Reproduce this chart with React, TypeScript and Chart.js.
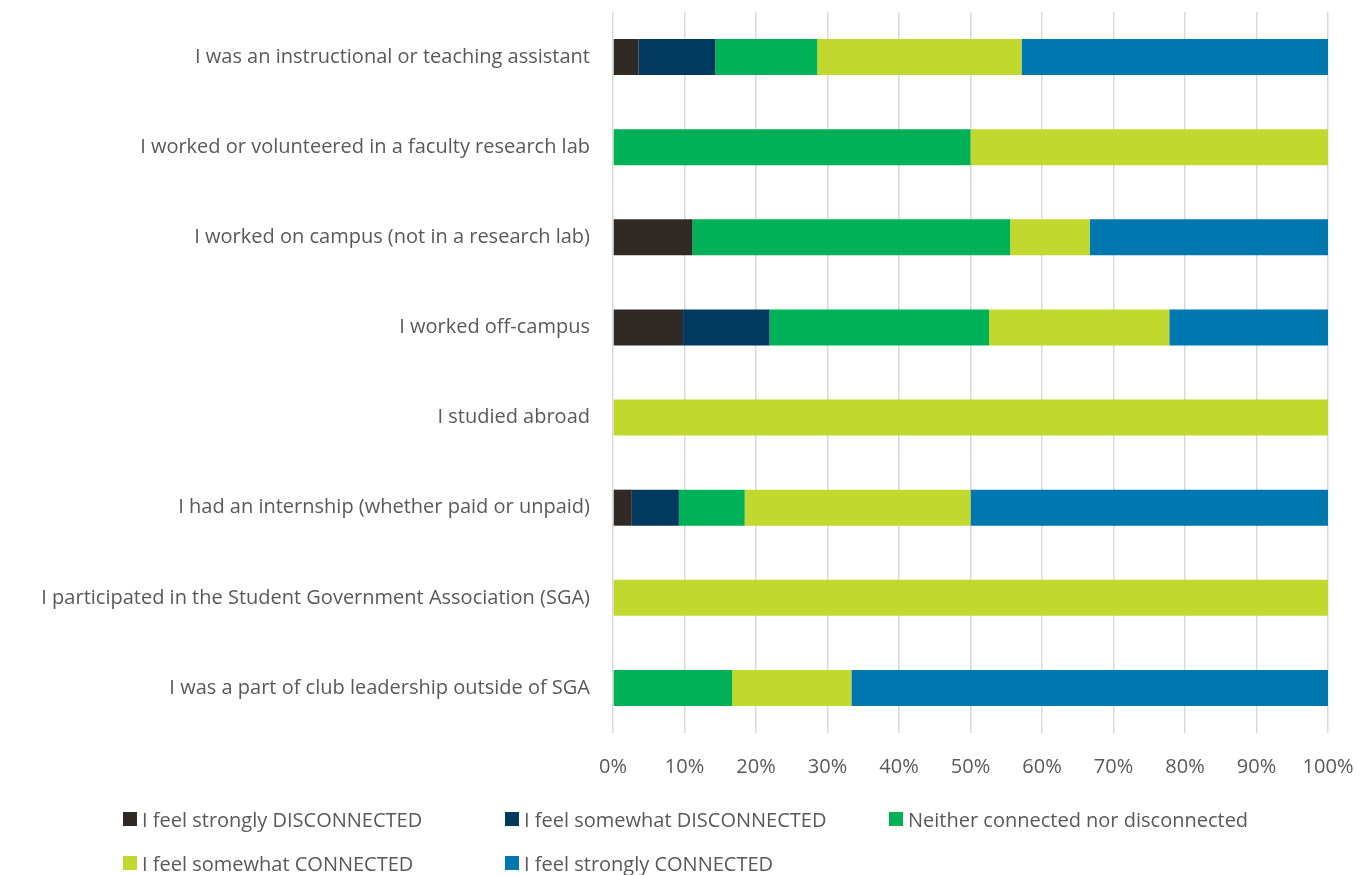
import { useEffect, useRef } from "react";
import { Chart, registerables } from "chart.js";

Chart.register(...registerables);

const categories = [
  "I was an instructional or teaching assistant",
  "I worked or volunteered in a faculty research lab",
  "I worked on campus (not in a research lab)",
  "I worked off-campus",
  "I studied abroad",
  "I had an internship (whether paid or unpaid)",
  "I participated in the Student Government Association (SGA)",
  "I was a part of club leadership outside of SGA",
];

const seriesNames = [
  "I feel strongly DISCONNECTED",
  "I feel somewhat DISCONNECTED",
  "Neither connected nor disconnected",
  "I feel somewhat CONNECTED",
  "I feel strongly CONNECTED",
];

const seriesColors = ["#2f2a26", "#02395e", "#00b157", "#c1d82f", "#0077ae"];

const stronglyDisconnected = [3.57, 0, 11.11, 9.8, 0, 2.63, 0, 0];
const somewhatDisconnected = [10.71, 0, 0, 12.1, 0, 6.58, 0, 0];
const neitherConnected = [14.29, 50, 44.44, 30.7, 0, 9.21, 0, 16.67];
const somewhatConnected = [28.57, 50, 11.11, 25.2, 100, 31.58, 100, 16.67];
const stronglyConnected = [42.86, 0, 33.34, 22.2, 0, 50, 0, 66.66];

const xTickValues = [0, 10, 20, 30, 40, 50, 60, 70, 80, 90, 100];
const xTickLabels = xTickValues.map((v) => v + "%");

const FONT = "Open Sans";
const FONT_SIZE = 20;
const TEXT_COLOR = "#595959";

export default function App() {
  const canvasRef = useRef<HTMLCanvasElement | null>(null);

  useEffect(() => {
    let chart: Chart | null = null;
    let cancelled = false;
    const make = () => {
      if (cancelled || !canvasRef.current) return;
      const values = [
        stronglyDisconnected,
        somewhatDisconnected,
        neitherConnected,
        somewhatConnected,
        stronglyConnected,
      ];
      chart = new Chart(canvasRef.current, {
        type: "bar",
        data: {
          labels: categories,
          datasets: seriesNames.map((name, i) => ({
            label: name,
            data: values[i],
            backgroundColor: seriesColors[i],
            borderWidth: 0,
            barPercentage: 0.4,
            categoryPercentage: 1.0,
          })),
        },
        options: {
          indexAxis: "y",
          responsive: false,
          animation: false,
          maintainAspectRatio: false,
          layout: { padding: { top: 11, right: 31, bottom: 82, left: 0 } },
          plugins: {
            legend: { display: false },
            tooltip: { enabled: false },
          },
          scales: {
            x: {
              stacked: true,
              min: 0,
              max: 100,
              afterBuildTicks: (scale: any) => {
                scale.ticks = xTickValues.map((v) => ({ value: v }));
              },
              afterFit: (scale: any) => {
                scale.height = 60;
              },
              ticks: {
                color: TEXT_COLOR,
                font: { family: FONT, size: FONT_SIZE },
                padding: 0,
                maxRotation: 0,
                callback: (_v: any, idx: number) => xTickLabels[idx],
              },
              grid: {
                color: "#d9d9d9",
                lineWidth: 1.5,
                drawTicks: true,
                tickLength: 22,
                tickColor: "rgba(0,0,0,0)",
              },
              border: { display: false },
            },
            y: {
              stacked: true,
              afterFit: (scale: any) => {
                scale.width = 613;
              },
              ticks: {
                color: TEXT_COLOR,
                font: { family: FONT, size: FONT_SIZE },
                padding: 0,
                autoSkip: false,
              },
              grid: { display: false, drawTicks: true, tickLength: 23 },
              border: { display: false },
            },
          },
        },
      });
    };
    const fontsApi = (document as any).fonts;
    if (fontsApi && fontsApi.load) {
      fontsApi.load(`${FONT_SIZE}px "${FONT}"`).then(make, make);
    } else {
      make();
    }
    return () => {
      cancelled = true;
      if (chart) chart.destroy();
    };
  }, []);

  const legendPositions = [
    { x: 123, y: 812 },
    { x: 505, y: 812 },
    { x: 889, y: 812 },
    { x: 123, y: 856 },
    { x: 505, y: 856 },
  ];

  return (
    <div
      style={{
        position: "fixed",
        left: 0,
        top: 0,
        width: 1359,
        height: 875,
        background: "#ffffff",
        overflow: "hidden",
      }}
    >
      <canvas
        ref={canvasRef}
        width={1359}
        height={875}
        style={{ position: "absolute", left: 0, top: 0, width: 1359, height: 875 }}
      />
      {seriesNames.map((name, i) => (
        <div
          key={name}
          style={{
            position: "absolute",
            left: legendPositions[i].x,
            top: legendPositions[i].y - 6,
            height: 26,
            display: "flex",
            alignItems: "center",
            fontFamily: FONT,
            fontSize: FONT_SIZE,
            color: TEXT_COLOR,
            whiteSpace: "nowrap",
          }}
        >
          <span
            style={{
              display: "inline-block",
              width: 14,
              height: 14,
              background: seriesColors[i],
              marginRight: 5,
            }}
          />
          <span>{name}</span>
        </div>
      ))}
    </div>
  );
}
